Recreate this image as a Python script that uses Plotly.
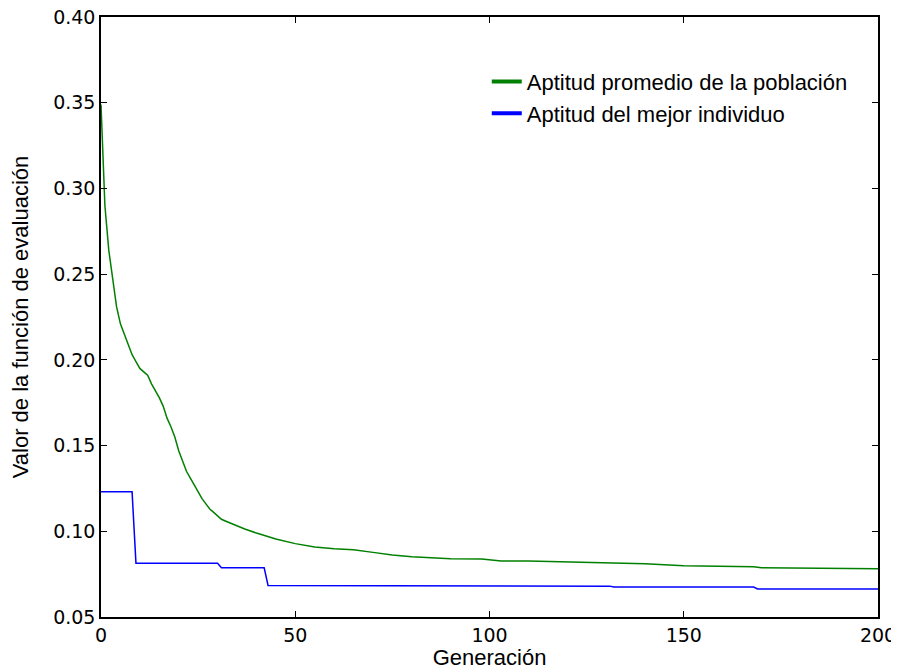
import plotly.graph_objects as go

# Average population fitness (green), read at selected generations
avg_gen = [0, 1, 2, 3, 4, 5, 6, 7, 8, 9, 10, 11, 12, 13, 14, 15, 16, 17, 18, 19,
           20, 21, 22, 23, 24, 25, 26, 27, 28, 29, 30, 31, 32, 33, 35, 37, 40, 42,
           45, 50, 55, 60, 65, 70, 75, 80, 85, 90, 98, 100, 103, 110, 120, 125,
           129, 132, 140, 150, 168, 170, 187, 189, 200]
avg_fit = [0.349, 0.290, 0.264, 0.248, 0.231, 0.221, 0.215, 0.209, 0.203, 0.199,
           0.195, 0.193, 0.191, 0.186, 0.182, 0.178, 0.173, 0.166, 0.161, 0.155,
           0.147, 0.141, 0.135, 0.131, 0.127, 0.123, 0.119, 0.116, 0.113, 0.111,
           0.109, 0.107, 0.106, 0.105, 0.103, 0.1013, 0.099, 0.0975,
           0.0955, 0.0928, 0.0908, 0.0898, 0.0892, 0.0877, 0.0862, 0.0852, 0.0845,
           0.0840, 0.0838, 0.0834, 0.0826, 0.0826, 0.0822, 0.0819,
           0.0818, 0.0813, 0.0810, 0.0799, 0.0793, 0.0787, 0.0785, 0.0781, 0.0781]

# Best individual fitness (blue)
best_gen = [0, 8, 9, 30, 31, 42, 43, 101, 102, 131, 132, 168, 169, 200]
best_fit = [0.123, 0.123, 0.0813, 0.0813, 0.0787, 0.0787, 0.0684, 0.0684,
            0.0680, 0.0680, 0.0675, 0.0675, 0.0664, 0.0664]

series_names = ["Aptitud promedio de la población", "Aptitud del mejor individuo"]
x_ticks = [0, 50, 100, 150, 200]
y_ticks = [0.05, 0.10, 0.15, 0.20, 0.25, 0.30, 0.35, 0.40]

GREEN = "#008000"
BLUE = "#0000ff"

fig = go.Figure()
fig.add_trace(go.Scatter(x=avg_gen, y=avg_fit, mode="lines",
                         line=dict(color=GREEN, width=1.5), showlegend=False))
fig.add_trace(go.Scatter(x=best_gen, y=best_fit, mode="lines",
                         line=dict(color=BLUE, width=1.5), showlegend=False))
# legend entries with thicker lines
fig.add_trace(go.Scatter(x=[None], y=[None], mode="lines", name=series_names[0],
                         line=dict(color=GREEN, width=4)))
fig.add_trace(go.Scatter(x=[None], y=[None], mode="lines", name=series_names[1],
                         line=dict(color=BLUE, width=4)))

axis_common = dict(showgrid=False, zeroline=False, showline=True, linecolor="black",
                   linewidth=1.5, mirror="ticks", ticks="inside", ticklen=6,
                   tickwidth=1, tickcolor="black", automargin=False,
                   ticklabeloverflow="allow",
                   tickfont=dict(family="DejaVu Sans", size=19, color="black"))

fig.update_xaxes(range=[0, 200], tickvals=x_ticks,
                 title=dict(text="Generación", standoff=2,
                            font=dict(family="Liberation Sans", size=22, color="black")),
                 **axis_common)
fig.update_yaxes(range=[0.05, 0.40], tickvals=y_ticks, tickformat=".2f",
                 title=dict(text="Valor de la función de evaluación", standoff=19,
                            font=dict(family="Liberation Sans", size=22, color="black")),
                 **axis_common)

# the page body has an 8px margin, so the figure is sized to fit the window
fig.update_layout(
    width=891, height=662,
    margin=dict(l=93, r=21, t=9, b=53),
    plot_bgcolor="white", paper_bgcolor="white",
    legend=dict(x=0.4965, y=0.927, xanchor="left", yanchor="top",
                bgcolor="rgba(0,0,0,0)", borderwidth=0,
                font=dict(family="Liberation Sans", size=22, color="black"),
                tracegroupgap=0),
)

fig.write_html("out.html")
